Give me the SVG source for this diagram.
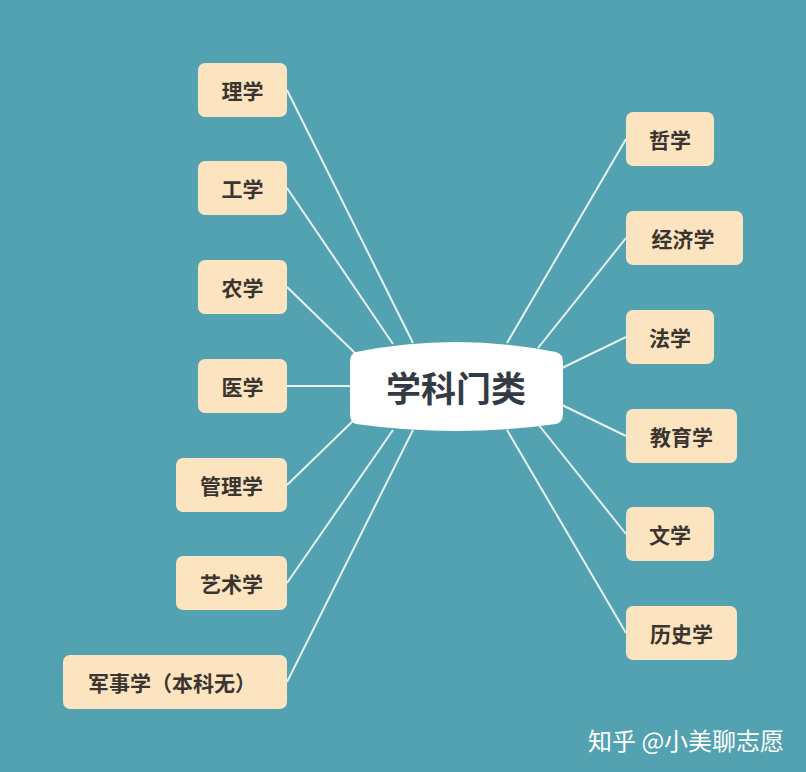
<svg xmlns="http://www.w3.org/2000/svg" width="806" height="772" viewBox="0 0 806 772">
<style>
.box{fill:#fde4c0;}
.t{font-family:"Noto Sans CJK SC","Noto Sans",sans-serif;font-weight:bold;font-size:21px;fill:#3a3530;text-anchor:middle;dominant-baseline:central;}
.c{stroke:#e8f2f5;stroke-width:2;fill:none;}
</style>
<rect width="806" height="772" fill="#52a2b2"/>
<g id="connectors">
<line class="c" x1="287" y1="90" x2="413" y2="343"/>
<line class="c" x1="287" y1="188" x2="393" y2="344"/>
<line class="c" x1="287" y1="287" x2="356" y2="354"/>
<line class="c" x1="287" y1="386" x2="350" y2="386"/>
<line class="c" x1="287" y1="485" x2="356" y2="418"/>
<line class="c" x1="287" y1="583" x2="393" y2="430"/>
<line class="c" x1="287" y1="682" x2="413" y2="430"/>
<line class="c" x1="626" y1="139" x2="507" y2="343"/>
<line class="c" x1="626" y1="238" x2="538" y2="348"/>
<line class="c" x1="626" y1="337" x2="562" y2="368"/>
<line class="c" x1="626" y1="436" x2="562" y2="405"/>
<line class="c" x1="626" y1="534" x2="538" y2="424"/>
<line class="c" x1="626" y1="633" x2="507" y2="430"/>
</g>
<g id="center">
<path d="M356 352 Q456 332 556 352 Q563 354 563 362 L563 414 Q563 422 556 424 Q456 438 356 424 Q350 422 350 414 L350 362 Q350 354 356 352 Z" fill="#ffffff"/>
<text x="456" y="386" class="t" style="font-size:35px;fill:#343a44">学科门类</text>
</g>
<g id="n-lixue"><rect class="box" x="198" y="63" width="89" height="54" rx="7"/><text class="t" x="242.5" y="90">理学</text></g>
<g id="n-gongxue"><rect class="box" x="198" y="161" width="89" height="54" rx="7"/><text class="t" x="242.5" y="188">工学</text></g>
<g id="n-nongxue"><rect class="box" x="198" y="260" width="89" height="54" rx="7"/><text class="t" x="242.5" y="287">农学</text></g>
<g id="n-yixue"><rect class="box" x="198" y="359" width="89" height="54" rx="7"/><text class="t" x="242.5" y="386">医学</text></g>
<g id="n-guanli"><rect class="box" x="176" y="458" width="111" height="54" rx="7"/><text class="t" x="231.5" y="485">管理学</text></g>
<g id="n-yishu"><rect class="box" x="176" y="556" width="111" height="54" rx="7"/><text class="t" x="231.5" y="583">艺术学</text></g>
<g id="n-junshi"><rect class="box" x="63" y="655" width="224" height="54" rx="7"/><text class="t" x="172" y="682">军事学（本科无）</text></g>
<g id="n-zhexue"><rect class="box" x="626" y="112" width="88" height="54" rx="7"/><text class="t" x="670" y="139">哲学</text></g>
<g id="n-jingji"><rect class="box" x="626" y="211" width="117" height="54" rx="7"/><text class="t" x="683" y="238">经济学</text></g>
<g id="n-faxue"><rect class="box" x="626" y="310" width="88" height="54" rx="7"/><text class="t" x="670" y="337">法学</text></g>
<g id="n-jiaoyu"><rect class="box" x="626" y="409" width="111" height="54" rx="7"/><text class="t" x="681.5" y="436">教育学</text></g>
<g id="n-wenxue"><rect class="box" x="626" y="507" width="88" height="54" rx="7"/><text class="t" x="670" y="534">文学</text></g>
<g id="n-lishi"><rect class="box" x="626" y="606" width="111" height="54" rx="7"/><text class="t" x="681.5" y="633">历史学</text></g>
<text x="588" y="739" style="font-family:'Noto Sans CJK SC','Noto Sans',sans-serif;font-size:24px;fill:#ffffff;dominant-baseline:central">知乎 @小美聊志愿</text>
</svg>
